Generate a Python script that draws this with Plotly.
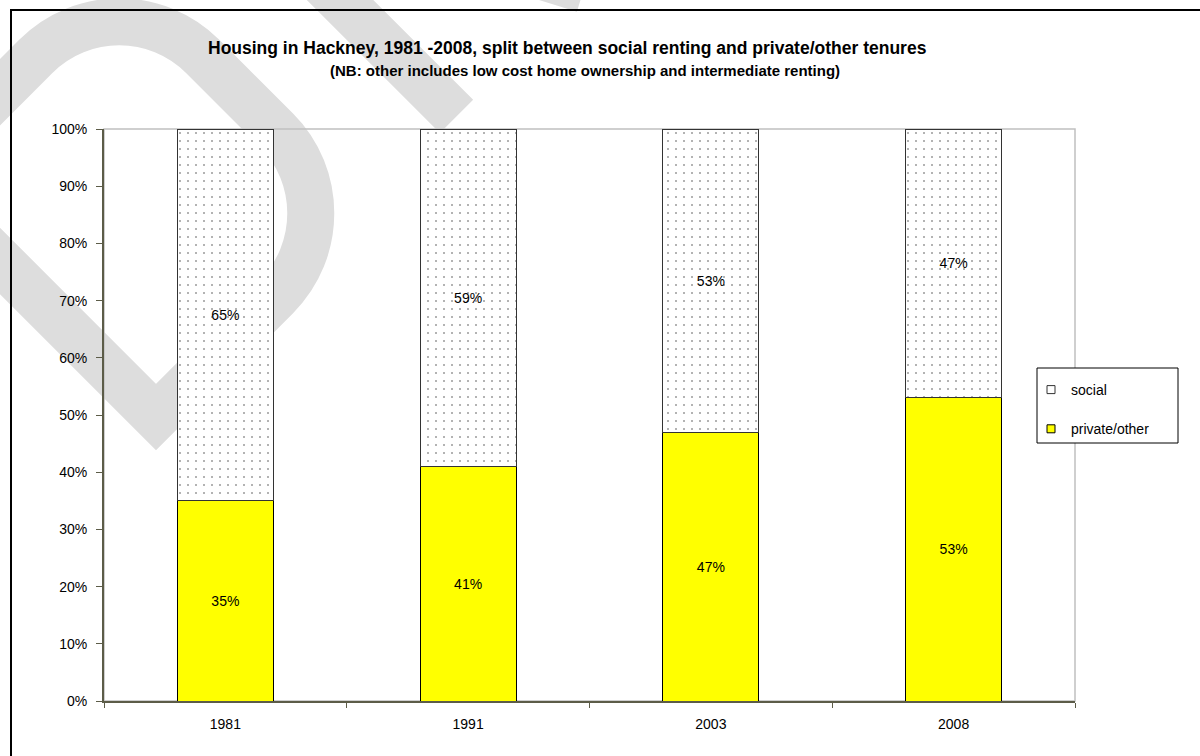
import math
import plotly.graph_objects as go

# ---- data -------------------------------------------------------------
years = ["1981", "1991", "2003", "2008"]
private_other = [0.35, 0.41, 0.47, 0.53]
social = [0.65, 0.59, 0.53, 0.47]

title_text = "Housing in Hackney, 1981 -2008, split between social renting and private/other tenures"
subtitle_text = "(NB: other includes low cost home ownership and intermediate renting)"

# ---- page geometry (pixels) -------------------------------------------
W, H = 1200, 756
ML, MR, MT, MB = 104, 125, 129, 55
PW = W - ML - MR
PH = H - MT - MB

FONT = "Liberation Sans, Arial, sans-serif"
AXIS_COL = "#5c5c48"


def to_paper(x, y):
    """Pixel position on the page -> paper coordinates."""
    return (x - ML) / PW, (H - MB - y) / PH


# ---- "DRAFT" watermark letters, drawn on a 45 degree baseline ----------
ORIGIN = (156, 417)
C45 = math.sqrt(0.5)


def loc(u, v):
    sx = ORIGIN[0] + C45 * (u - v)
    sy = ORIGIN[1] - C45 * (u + v)
    return to_paper(sx, sy)


def svg_path(cmds):
    parts = []
    for letter, pts in cmds:
        coords = " ".join("%.5f,%.5f" % loc(u, v) for u, v in pts)
        parts.append(letter + coords)
    return " ".join(parts)


K = 0.5523
CAP = 340
# letter D: stem, bottom bar, rounded bowl, top bar
a, R = 170, 118
d_path = svg_path([
    ("M", [(0, CAP)]), ("L", [(0, 0)]), ("L", [(a, 0)]),
    ("C", [(a + K * R, 0), (a + R, R - K * R), (a + R, R)]),
    ("L", [(a + R, CAP - R)]),
    ("C", [(a + R, CAP - R + K * R), (a + K * R, CAP), (a, CAP)]),
]) + " Z"
# letter R
uR, b, Hm = 425, 100, 170
r = (CAP - Hm) / 2
r_path = svg_path([
    ("M", [(uR, 0)]), ("L", [(uR, CAP)]), ("L", [(uR + b, CAP)]),
    ("C", [(uR + b + K * r, CAP), (uR + b + r, Hm + r + K * r), (uR + b + r, Hm + r)]),
    ("C", [(uR + b + r, Hm + r - K * r), (uR + b + K * r, Hm), (uR + b, Hm)]),
    ("L", [(uR, Hm)]),
    ("M", [(uR + b - 10, Hm)]), ("L", [(605, 0)]),
])

WM = dict(color="#dddddd", width=47)
shapes = [
    dict(type="path", xref="paper", yref="paper", path=d_path, line=WM, layer="below"),
    dict(type="path", xref="paper", yref="paper", path=r_path, line=WM, layer="below"),
]

# outer frame of the chart object
fx0, fy0 = to_paper(11, 10)
fx1, fy1 = to_paper(1220, 780)
shapes.append(dict(type="rect", xref="paper", yref="paper", x0=fx0, y0=fy0, x1=fx1, y1=fy1,
                   line=dict(color="black", width=2), layer="below"))
# plot area border
shapes.append(dict(type="rect", xref="paper", yref="paper", x0=0, y0=0, x1=1, y1=1,
                   line=dict(color="#c0c0c0", width=1.5), layer="below"))
# legend box
lx0, ly0 = to_paper(1037, 368)
lx1, ly1 = to_paper(1178, 443)
shapes.append(dict(type="rect", xref="paper", yref="paper", x0=lx0, y0=ly0, x1=lx1, y1=ly1,
                   fillcolor="white", line=dict(color="black", width=1), layer="above"))

# ---- traces -------------------------------------------------------------
fig = go.Figure()
fig.add_trace(go.Bar(
    x=years, y=private_other, name="private/other", showlegend=False,
    marker=dict(color="#ffff00", line=dict(color="black", width=1)),
    texttemplate="%{y:.0%}", textposition="inside", insidetextanchor="middle",
    textangle=0, constraintext="none",
    textfont=dict(family=FONT, size=14, color="black"),
))
fig.add_trace(go.Bar(
    x=years, y=social, name="social", showlegend=False,
    marker=dict(color="white", line=dict(color="#333333", width=1),
                pattern=dict(shape=".", size=8, solidity=0.05,
                             fgcolor="#333333", bgcolor="white")),
    texttemplate="%{y:.0%}", textposition="inside", insidetextanchor="middle",
    textangle=0, constraintext="none",
    textfont=dict(family=FONT, size=14, color="black"),
))

# legend entries
fig.add_trace(go.Scatter(
    x=[None], y=[None], mode="markers", name="social", legendgroup="social",
    marker=dict(symbol="square", size=8, color="white", line=dict(color="#333333", width=1)),
))
fig.add_trace(go.Scatter(
    x=[None], y=[None], mode="markers", name="private/other", legendgroup="private",
    marker=dict(symbol="square", size=8, color="#ffff00", line=dict(color="black", width=1)),
))

# ---- titles -------------------------------------------------------------
tx, ty = to_paper(567.5, 48)
sx, sy = to_paper(584.5, 70)
annotations = [
    dict(text=title_text, xref="paper", yref="paper", x=tx, y=ty, xanchor="center",
         yanchor="middle", showarrow=False,
         font=dict(family=FONT, size=17.5, color="black", weight="bold")),
    dict(text=subtitle_text, xref="paper", yref="paper", x=sx, y=sy, xanchor="center",
         yanchor="middle", showarrow=False,
         font=dict(family=FONT, size=15, color="black", weight="bold")),
]

legx, legy = to_paper(1031, 374)

fig.update_layout(
    width=W, height=H,
    margin=dict(l=ML, r=MR, t=MT, b=MB, autoexpand=False),
    paper_bgcolor="white", plot_bgcolor="white",
    barmode="stack", bargap=0.6045,
    font=dict(family=FONT, size=14, color="black"),
    shapes=shapes, annotations=annotations,
    legend=dict(x=legx, y=legy, xanchor="left", yanchor="top",
                bgcolor="rgba(0,0,0,0)", borderwidth=0,
                traceorder="grouped", tracegroupgap=18,
                font=dict(family=FONT, size=14, color="black")),
    xaxis=dict(type="category", showline=True, linecolor=AXIS_COL, linewidth=2,
               ticks="outside", tickson="boundaries", ticklen=5, tickcolor=AXIS_COL,
               tickwidth=1, showgrid=False, zeroline=False,
               tickfont=dict(family=FONT, size=14, color="black"),
               ticklabelstandoff=9),
    yaxis=dict(range=[0, 1], tickformat=".0%", tick0=0, dtick=0.1,
               showline=True, linecolor=AXIS_COL, linewidth=2,
               ticks="outside", ticklen=6, tickcolor=AXIS_COL, tickwidth=1,
               showgrid=False, zeroline=False,
               tickfont=dict(family=FONT, size=14, color="black"),
               ticklabelstandoff=6),
)

fig.write_html("out.html")
